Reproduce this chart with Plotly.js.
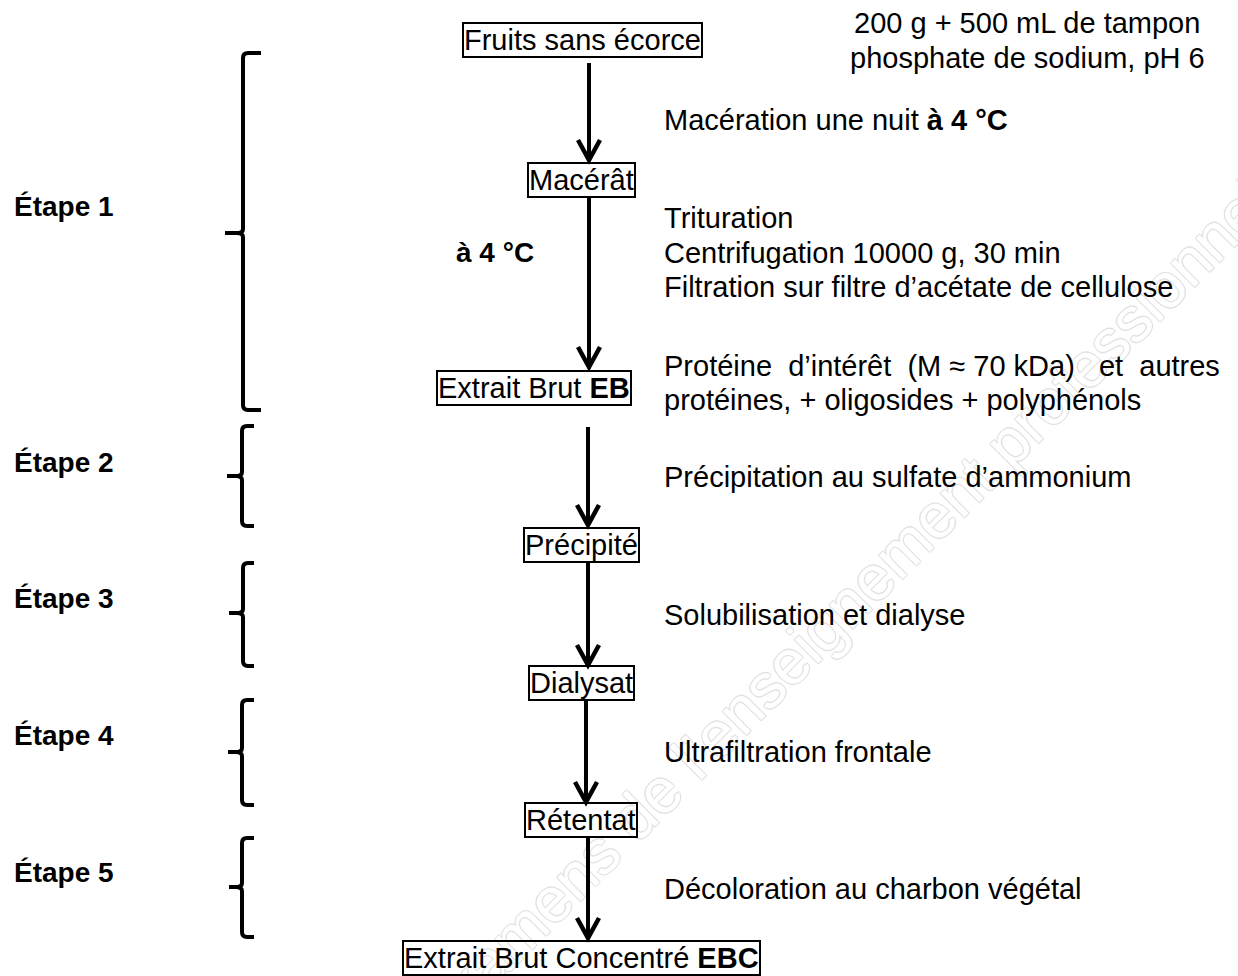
<!DOCTYPE html>
<html>
<head>
<meta charset="utf-8">
<script src="https://cdn.plot.ly/plotly-3.0.1.min.js"></script>
<style>html,body{margin:0;padding:0;background:#fff;}#chart{width:1238px;height:976px;}</style>
</head>
<body>
<div id="chart"></div>
<script>
// ---- content ----
var boxLabels = ["Fruits sans écorce", "Macérât", "Extrait Brut <b>EB</b>", "Précipité", "Dialysat", "Rétentat", "Extrait Brut Concentré <b>EBC</b>"];
var stepLabels = ["Étape 1", "Étape 2", "Étape 3", "Étape 4", "Étape 5"];
var descLines = [
  "Macération une nuit <b>à 4 °C</b>",
  "Trituration",
  "Centrifugation 10000 g, 30 min",
  "Filtration sur filtre d’acétate de cellulose",
  "Protéine\u00A0 d’intérêt\u00A0 (M ≈ 70 kDa)\u00A0\u00A0 et\u00A0 autres",
  "protéines, + oligosides + polyphénols",
  "Précipitation au sulfate d’ammonium",
  "Solubilisation et dialyse",
  "Ultrafiltration frontale",
  "Décoloration au charbon végétal"
];
var topNote = ["200 g + 500 mL de tampon", "phosphate de sodium, pH 6"];
var sideNote = "<b>à 4 °C</b>";
var watermark = "Base Nationale des Sujets d’Examens de l’enseignement professionnel";
var watermarkPrefix = "Base Nationale des Sujets d’Exa";

// ---- layout geometry (pixels) ----
var FONT = "Liberation Sans, Arial, sans-serif";
var FS = 29;
var boxPos = [[582, 40], [581.5, 180], [534, 388], [581, 545], [581, 683], [580.5, 820], [581, 958]];
var stepPos = [[12, 206], [12, 462], [12, 598], [12, 735], [12, 872]];
var descY = [120, 218, 253, 287, 366, 400, 477, 615, 752, 889];
var descX = 662;
var arrows = [[589, 63, 160], [589, 198, 367], [588, 427, 525], [588, 563, 665], [586, 701, 802], [588, 838, 938]];
var braces = [
  [53, 410, 233, 243, 261, 225],
  [426, 526, 476, 242, 254, 227],
  [563, 666, 613, 243, 254, 229],
  [700, 805, 752, 242, 254, 228],
  [838, 937, 887, 242, 254, 229]
];

var annotations = [];
var shapes = [];

// watermark as a shape label placed along a 45° line
(function(){
  var wfs = 63;
  var c = document.createElement('canvas').getContext('2d');
  c.font = wfs + "px 'Liberation Sans'";
  var full = c.measureText(watermark).width;
  var pre = c.measureText(watermarkPrefix).width;
  var S = [496, 946];
  var d = [Math.SQRT1_2, -Math.SQRT1_2];
  var off = full / 2 - pre;
  var cx = S[0] + d[0] * off, cy = S[1] + d[1] * off;
  var L = 50;
  shapes.push({
    type: 'line', xref: 'x', yref: 'y', layer: 'below',
    x0: cx - d[0] * L, y0: cy - d[1] * L, x1: cx + d[0] * L, y1: cy + d[1] * L,
    line: {width: 0, color: 'rgba(0,0,0,0)'},
    label: {text: watermark, textposition: 'middle', yanchor: 'middle', xanchor: 'center',
      font: {family: FONT, size: wfs, color: '#ffffff',
        shadow: '1px 1px 0 #e2e2e2, -1px -1px 0 #e2e2e2, 1px -1px 0 #e2e2e2, -1px 1px 0 #e2e2e2'}}
  });
})();

boxLabels.forEach(function(t, i){
  annotations.push({x: boxPos[i][0], y: boxPos[i][1], xref: 'x', yref: 'y', text: t, showarrow: false,
    xanchor: 'center', yanchor: 'middle', font: {family: FONT, size: FS, color: '#000'},
    bordercolor: '#000', borderwidth: 2, borderpad: 0});
});
stepLabels.forEach(function(t, i){
  annotations.push({x: stepPos[i][0], y: stepPos[i][1], xref: 'x', yref: 'y', text: '<b>' + t + '</b>', showarrow: false,
    xanchor: 'left', yanchor: 'middle', font: {family: FONT, size: 28, color: '#000'}});
});
descLines.forEach(function(t, i){
  annotations.push({x: descX, y: descY[i], xref: 'x', yref: 'y', text: t, showarrow: false,
    xanchor: 'left', yanchor: 'middle', font: {family: FONT, size: FS, color: '#000'}});
});
topNote.forEach(function(t, i){
  annotations.push({x: 1027, y: 23 + 35 * i, xref: 'x', yref: 'y', text: t, showarrow: false,
    xanchor: 'center', yanchor: 'middle', font: {family: FONT, size: FS, color: '#000'}});
});
annotations.push({x: 454, y: 252, xref: 'x', yref: 'y', text: sideNote, showarrow: false,
  xanchor: 'left', yanchor: 'middle', font: {family: FONT, size: 28, color: '#000'}});

arrows.forEach(function(a){
  var x = a[0], y0 = a[1], y1 = a[2];
  shapes.push({type: 'line', xref: 'x', yref: 'y', layer: 'above', x0: x, x1: x, y0: y0, y1: y1 - 2,
    line: {color: '#000', width: 4}});
  shapes.push({type: 'path', xref: 'x', yref: 'y', layer: 'above',
    path: 'M' + (x - 11) + ',' + (y1 - 20) + ' L' + x + ',' + y1 + ' L' + (x + 11) + ',' + (y1 - 20),
    line: {color: '#000', width: 4.5}});
});

braces.forEach(function(b){
  var yt = b[0], yb = b[1], ym = b[2], xv = b[3], xh = b[4], xl = b[5];
  var p = 'M' + xh + ',' + yt + ' L' + (xv + 5) + ',' + yt + ' Q' + xv + ',' + yt + ' ' + xv + ',' + (yt + 5) +
    ' L' + xv + ',' + (ym - 4) + ' Q' + xv + ',' + ym + ' ' + (xv - 6) + ',' + ym + ' L' + xl + ',' + ym +
    ' M' + (xv - 6) + ',' + ym + ' Q' + xv + ',' + ym + ' ' + xv + ',' + (ym + 4) +
    ' L' + xv + ',' + (yb - 5) + ' Q' + xv + ',' + yb + ' ' + (xv + 5) + ',' + yb + ' L' + xh + ',' + yb;
  shapes.push({type: 'path', xref: 'x', yref: 'y', layer: 'above', path: p, line: {color: '#000', width: 4}});
});

var data = [{x: [0, 1238], y: [0, 976], mode: 'markers', marker: {opacity: 0}, hoverinfo: 'skip', showlegend: false}];
var layout = {
  width: 1238, height: 976,
  margin: {l: 0, r: 0, t: 0, b: 0, pad: 0},
  paper_bgcolor: '#fff', plot_bgcolor: '#fff',
  xaxis: {range: [0, 1238], visible: false, fixedrange: true},
  yaxis: {range: [976, 0], visible: false, fixedrange: true},
  showlegend: false,
  annotations: annotations,
  shapes: shapes
};
Plotly.newPlot('chart', data, layout, {displayModeBar: false, staticPlot: true});
</script>
</body>
</html>
